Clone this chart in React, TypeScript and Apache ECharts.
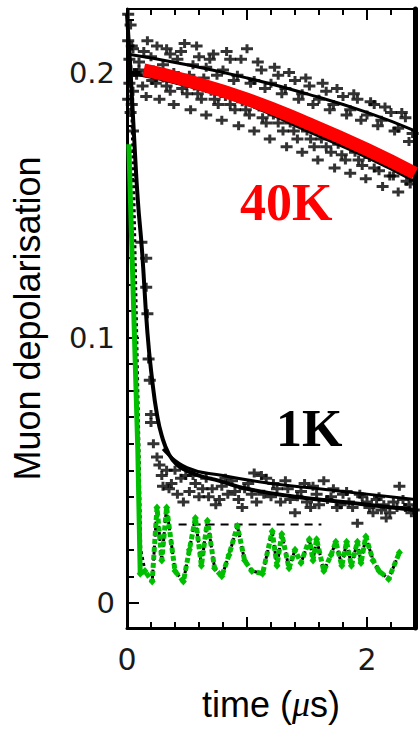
import React, { useEffect, useRef } from "react";
import * as echarts from "echarts";

// ---- 40 K data: two groups of points (time in µs, depolarisation) ----
const warmUpperPoints: [number, number][] = [
  [0.05, 0.209], [0.1, 0.204], [0.14, 0.208], [0.2, 0.206], [0.25, 0.21], [0.3, 0.203],
  [0.36, 0.207], [0.42, 0.205], [0.48, 0.211], [0.55, 0.203], [0.6, 0.206], [0.66, 0.202],
  [0.72, 0.207], [0.8, 0.201], [0.86, 0.205], [0.92, 0.199], [1.0, 0.209], [1.06, 0.197],
  [1.12, 0.201], [1.2, 0.196], [1.26, 0.199], [1.32, 0.194], [1.4, 0.197], [1.46, 0.192],
  [1.52, 0.195], [1.6, 0.19], [1.66, 0.193], [1.72, 0.188], [1.8, 0.191], [1.86, 0.186],
  [1.92, 0.19], [2.0, 0.184], [2.06, 0.188], [2.12, 0.182], [2.2, 0.185], [2.26, 0.179],
  [2.32, 0.183], [2.38, 0.177],
  [0.08, 0.2], [0.17, 0.212], [0.22, 0.201], [0.33, 0.209], [0.39, 0.2], [0.45, 0.208],
  [0.52, 0.199], [0.58, 0.21], [0.64, 0.198], [0.69, 0.205], [0.75, 0.199], [0.83, 0.208],
  [0.89, 0.197], [0.95, 0.205], [1.03, 0.196], [1.09, 0.204], [1.15, 0.194], [1.23, 0.202],
  [1.29, 0.192], [1.35, 0.2], [1.43, 0.19], [1.49, 0.198], [1.55, 0.188], [1.63, 0.196],
  [1.69, 0.186], [1.75, 0.194], [1.83, 0.184], [1.89, 0.192], [1.95, 0.182], [2.03, 0.189],
  [2.09, 0.18], [2.15, 0.187], [2.23, 0.178], [2.29, 0.185], [2.35, 0.174],
];
const warmLowerPoints: [number, number][] = [
  [0.08, 0.199], [0.13, 0.195], [0.18, 0.2], [0.24, 0.196], [0.3, 0.198], [0.36, 0.193],
  [0.42, 0.197], [0.5, 0.192], [0.56, 0.195], [0.62, 0.19], [0.7, 0.193], [0.76, 0.188],
  [0.82, 0.191], [0.9, 0.186], [0.96, 0.189], [1.02, 0.184], [1.1, 0.187], [1.16, 0.181],
  [1.22, 0.184], [1.3, 0.178], [1.36, 0.181], [1.42, 0.175], [1.5, 0.178], [1.56, 0.172],
  [1.62, 0.175], [1.7, 0.17], [1.76, 0.173], [1.82, 0.167], [1.9, 0.17], [1.96, 0.165],
  [2.02, 0.168], [2.1, 0.163], [2.16, 0.166], [2.22, 0.161], [2.3, 0.163], [2.36, 0.158],
  [0.05, 0.193], [0.1, 0.201], [0.16, 0.191], [0.21, 0.197], [0.27, 0.19], [0.33, 0.195],
  [0.39, 0.188], [0.46, 0.194], [0.53, 0.186], [0.59, 0.192], [0.66, 0.184], [0.73, 0.19],
  [0.79, 0.182], [0.86, 0.188], [0.93, 0.18], [0.99, 0.186], [1.06, 0.178], [1.13, 0.183],
  [1.19, 0.175], [1.26, 0.181], [1.33, 0.172], [1.39, 0.178], [1.46, 0.17], [1.53, 0.175],
  [1.59, 0.167], [1.66, 0.172], [1.73, 0.164], [1.79, 0.169], [1.86, 0.162], [1.93, 0.167],
  [1.99, 0.16], [2.06, 0.164], [2.13, 0.157], [2.19, 0.161], [2.26, 0.155], [2.33, 0.159],
];
const warmUpperFit: [number, number][] = [
  [0.0, 0.207], [0.5, 0.203], [1.0, 0.198], [1.5, 0.192], [2.0, 0.185], [2.4, 0.178],
];
const warmLowerFit: [number, number][] = [
  [0.0, 0.2], [0.5, 0.195], [1.0, 0.188], [1.5, 0.178], [2.0, 0.168], [2.4, 0.159],
];
const warmModel: [number, number][] = [
  [0.14, 0.201], [0.5, 0.197], [1.0, 0.19], [1.5, 0.181], [2.0, 0.171], [2.4, 0.162],
];

// ---- 1 K data ----
const coldEarlyPoints: [number, number][] = [
  [0.01, 0.222], [0.01, 0.212], [0.02, 0.205], [0.03, 0.218], [0.04, 0.21], [0.06, 0.2],
  [0.01, 0.19], [0.03, 0.185], [0.05, 0.178], [0.02, 0.196], [0.04, 0.188],
];
const coldPoints: [number, number][] = [
  [0.12, 0.136], [0.16, 0.13], [0.16, 0.119], [0.17, 0.109], [0.18, 0.092], [0.19, 0.084],
  [0.2, 0.071], [0.2, 0.068], [0.22, 0.06], [0.25, 0.055], [0.29, 0.048], [0.27, 0.052],
  [0.33, 0.05], [0.35, 0.043], [0.37, 0.045], [0.42, 0.041], [0.45, 0.047], [0.49, 0.048],
  [0.52, 0.042], [0.57, 0.045], [0.63, 0.043], [0.68, 0.04], [0.74, 0.037], [0.79, 0.044],
  [0.84, 0.041], [0.875, 0.046], [0.93, 0.039], [0.98, 0.043], [1.04, 0.041], [1.08, 0.038],
  [1.12, 0.048], [1.16, 0.047], [1.2, 0.04], [1.25, 0.043], [1.32, 0.046], [1.36, 0.039],
  [1.4, 0.034], [1.45, 0.042], [1.5, 0.038], [1.55, 0.044], [1.6, 0.037], [1.64, 0.046],
  [1.7, 0.04], [1.75, 0.036], [1.8, 0.041], [1.85, 0.038], [1.92, 0.03], [1.96, 0.04],
  [2.02, 0.036], [2.08, 0.039], [2.12, 0.035], [2.16, 0.032], [2.22, 0.038], [2.27, 0.044],
  [2.32, 0.036], [2.37, 0.034],
  [0.3, 0.044], [0.4, 0.05], [0.47, 0.038], [0.55, 0.048], [0.6, 0.04], [0.66, 0.047],
  [0.71, 0.043], [0.77, 0.039], [0.82, 0.047], [0.9, 0.042], [0.96, 0.036], [1.01, 0.045],
  [1.06, 0.049], [1.14, 0.041], [1.22, 0.045], [1.28, 0.038], [1.34, 0.043], [1.42, 0.04],
  [1.48, 0.045], [1.53, 0.036], [1.58, 0.041], [1.67, 0.039], [1.72, 0.043], [1.78, 0.037],
  [1.83, 0.042], [1.88, 0.036], [1.94, 0.041], [2.0, 0.038], [2.05, 0.034], [2.1, 0.04],
  [2.14, 0.037], [2.19, 0.034], [2.25, 0.036], [2.3, 0.039], [2.35, 0.037], [2.39, 0.035],
];
const coldFit: [number, number][] = [
  [0.0, 0.222], [0.03, 0.2], [0.06, 0.175], [0.09, 0.152], [0.125, 0.133], [0.17, 0.102],
  [0.21, 0.084], [0.25, 0.071], [0.29, 0.063], [0.35, 0.056], [0.42, 0.052], [0.49, 0.05],
  [0.6, 0.048], [0.77, 0.046], [1.0, 0.043], [1.4, 0.04], [1.8, 0.038], [2.4, 0.035],
];
const coldFitAlt: [number, number][] = [
  [0.3, 0.058], [0.5, 0.051], [0.8, 0.048], [1.2, 0.045], [1.6, 0.043], [2.0, 0.041], [2.4, 0.039],
];
const coldBaseline: [number, number][] = [[0.43, 0.0295], [1.62, 0.0295]];

// ---- oscillating signal ----
const dropPoints: [number, number][] = [[0.015, 0.173], [0.09, 0.058], [0.11, 0.011]];
const dropFit: [number, number][] = [[0.03, 0.205], [0.058, 0.152], [0.1, 0.058], [0.115, 0.02]];
const oscTime = [
  0.11, 0.15, 0.21, 0.25, 0.29, 0.33, 0.4, 0.47, 0.52, 0.57, 0.62, 0.67, 0.73, 0.79, 0.85,
  0.92, 0.98, 1.04, 1.13, 1.21, 1.25, 1.29, 1.35, 1.4, 1.45, 1.52, 1.55, 1.58, 1.64, 1.7,
  1.74, 1.79, 1.83, 1.87, 1.92, 1.95, 1.99, 2.05, 2.1, 2.18, 2.27,
];
const oscValue = [
  0.011, 0.012, 0.008, 0.036, 0.016, 0.036, 0.012, 0.008, 0.02, 0.032, 0.014, 0.031, 0.013,
  0.01, 0.018, 0.029, 0.016, 0.012, 0.011, 0.027, 0.014, 0.026, 0.013, 0.02, 0.015, 0.024,
  0.016, 0.024, 0.012, 0.018, 0.023, 0.014, 0.023, 0.014, 0.023, 0.015, 0.025, 0.016, 0.012,
  0.009, 0.019,
];

// ---- axes ----
const xMajorTicks = [0, 1, 2];
const xTickLabels = [0, 2];
const xMinorTicks = [0.2, 0.4, 0.6, 0.8, 1.2, 1.4, 1.6, 1.8, 2.2];
const yMajorTicks = [0, 0.1, 0.2];
const yMinorTicks = [
  0.01, 0.02, 0.03, 0.04, 0.05, 0.06, 0.07, 0.08, 0.09, 0.11, 0.12, 0.13, 0.14, 0.15, 0.16,
  0.17, 0.18, 0.19, 0.21, 0.22,
];

const X_MIN = 0;
const X_MAX = 2.4;
const Y_MIN = -0.0095;
const Y_MAX = 0.224;

const CROSS = "path://M0,3H4.5V0H7.5V3H12V6H7.5V9H4.5V6H0Z";
const GREEN = "#00bf00";

export default function App() {
  const ref = useRef<HTMLDivElement>(null);

  useEffect(() => {
    if (!ref.current) return;
    const chart = echarts.init(ref.current, null, { renderer: "svg" });
    const osc: [number, number][] = oscTime.map((t, i) => [t, oscValue[i]]);

    const hidden = { show: false };
    const xBase = { type: "value", min: X_MIN, max: X_MAX, splitLine: hidden };
    const yBase = { type: "value", min: Y_MIN, max: Y_MAX, splitLine: hidden };
    const axisLine = (width: number) => ({
      show: true, onZero: false, lineStyle: { color: "#000", width },
    });
    const noLine = { show: false, onZero: false };
    const ticks = (length: number, values: number[]) => ({
      show: true, inside: true, length, customValues: values,
      lineStyle: { color: "#000", width: 2 },
    });

    const crosses = (name: string, data: [number, number][]) => ({
      name,
      type: "scatter",
      data,
      symbol: CROSS,
      symbolSize: [12, 9],
      itemStyle: { color: "#000" },
      z: 2,
    });
    const line = (name: string, data: [number, number][], style: any, z = 3) => ({
      name,
      type: "line",
      data,
      smooth: true,
      showSymbol: false,
      lineStyle: style,
      z,
    });

    const nameFont = { fontFamily: "Liberation Sans", fontSize: 36, color: "#000" };
    const gridRect = { left: 127, right: 5, top: 9, bottom: 102 };

    chart.setOption({
      animation: false,
      backgroundColor: "#fff",
      // grid 0 carries the data and the major ticks, grid 1 (same box) the minor ticks
      grid: [gridRect, gridRect],
      xAxis: [
        {
          ...xBase,
          gridIndex: 0,
          position: "bottom",
          axisLine: axisLine(3),
          axisTick: ticks(11, xMajorTicks),
          axisLabel: {
            customValues: xTickLabels, margin: 16, fontFamily: "DejaVu Sans",
            fontSize: 30, color: "#1a1a1a",
          },
          name: "time ({mu|\u03bc}s)",
          nameLocation: "middle",
          nameGap: 58,
          nameTextStyle: {
            ...nameFont,
            rich: { mu: { ...nameFont, fontStyle: "italic", fontFamily: "Liberation Serif" } },
          },
        },
        {
          ...xBase, gridIndex: 0, position: "top", axisLine: axisLine(2),
          axisTick: ticks(11, xMajorTicks), axisLabel: hidden,
        },
        {
          ...xBase, gridIndex: 1, position: "bottom", axisLine: noLine,
          axisTick: ticks(6, xMinorTicks), axisLabel: hidden,
        },
        {
          ...xBase, gridIndex: 1, position: "top", axisLine: noLine,
          axisTick: ticks(6, xMinorTicks), axisLabel: hidden,
        },
      ],
      yAxis: [
        {
          ...yBase,
          gridIndex: 0,
          position: "left",
          axisLine: axisLine(3),
          axisTick: ticks(12, yMajorTicks),
          axisLabel: {
            customValues: yMajorTicks, margin: 12, fontFamily: "DejaVu Sans",
            fontSize: 29, color: "#1a1a1a",
            formatter: (v: number) => (v === 0 ? "0" : String(v)),
          },
          name: "Muon depolarisation",
          nameLocation: "middle",
          nameGap: 82,
          nameTextStyle: nameFont,
        },
        {
          ...yBase, gridIndex: 0, position: "right", axisLine: axisLine(5),
          axisTick: hidden, axisLabel: hidden,
        },
        {
          ...yBase, gridIndex: 1, position: "left", axisLine: noLine,
          axisTick: ticks(7, yMinorTicks), axisLabel: hidden,
        },
      ],
      graphic: [
        {
          type: "text", left: 240, top: 176, z: 10,
          style: {
            text: "40K", fill: "#ff0000", fontFamily: "Liberation Serif",
            fontWeight: "bold", fontSize: 52,
          },
        },
        {
          type: "text", left: 276, top: 402, z: 10,
          style: {
            text: "1K", fill: "#000", fontFamily: "Liberation Serif",
            fontWeight: "bold", fontSize: 52,
          },
        },
      ],
      series: [
        crosses("40K upper", warmUpperPoints),
        crosses("40K lower", warmLowerPoints),
        line("40K upper fit", warmUpperFit, { color: "#000", width: 3 }),
        line("40K lower fit", warmLowerFit, { color: "#000", width: 3 }),
        line("40K model", warmModel, { color: "#ff0000", width: 13 }, 6),
        crosses("1K early", coldEarlyPoints),
        crosses("1K", coldPoints),
        line("1K fit", coldFit, { color: "#000", width: 4 }),
        line("1K fit b", coldFitAlt, { color: "#000", width: 3 }),
        {
          name: "1K baseline", type: "line", data: coldBaseline, showSymbol: false,
          lineStyle: { color: "#000", width: 2, type: [8, 6] }, z: 3,
        },
        {
          name: "oscillation fit", type: "line", data: [...dropFit, ...osc.slice(1)],
          showSymbol: false,
          lineStyle: { color: "#000", width: 3, type: [3, 3] }, z: 4,
        },
        {
          name: "drop", type: "line", data: dropPoints, showSymbol: false,
          lineStyle: { color: GREEN, width: 5 }, z: 5,
        },
        {
          name: "oscillation", type: "line", data: osc,
          symbol: "diamond", symbolSize: [7, 8], showSymbol: true,
          itemStyle: { color: GREEN },
          lineStyle: { color: GREEN, width: 5, type: [5, 3] }, z: 5,
        },
      ],
    });
    return () => chart.dispose();
  }, []);

  return (
    <div
      ref={ref}
      style={{ position: "fixed", left: 0, top: 0, width: 420, height: 730 }}
    />
  );
}
